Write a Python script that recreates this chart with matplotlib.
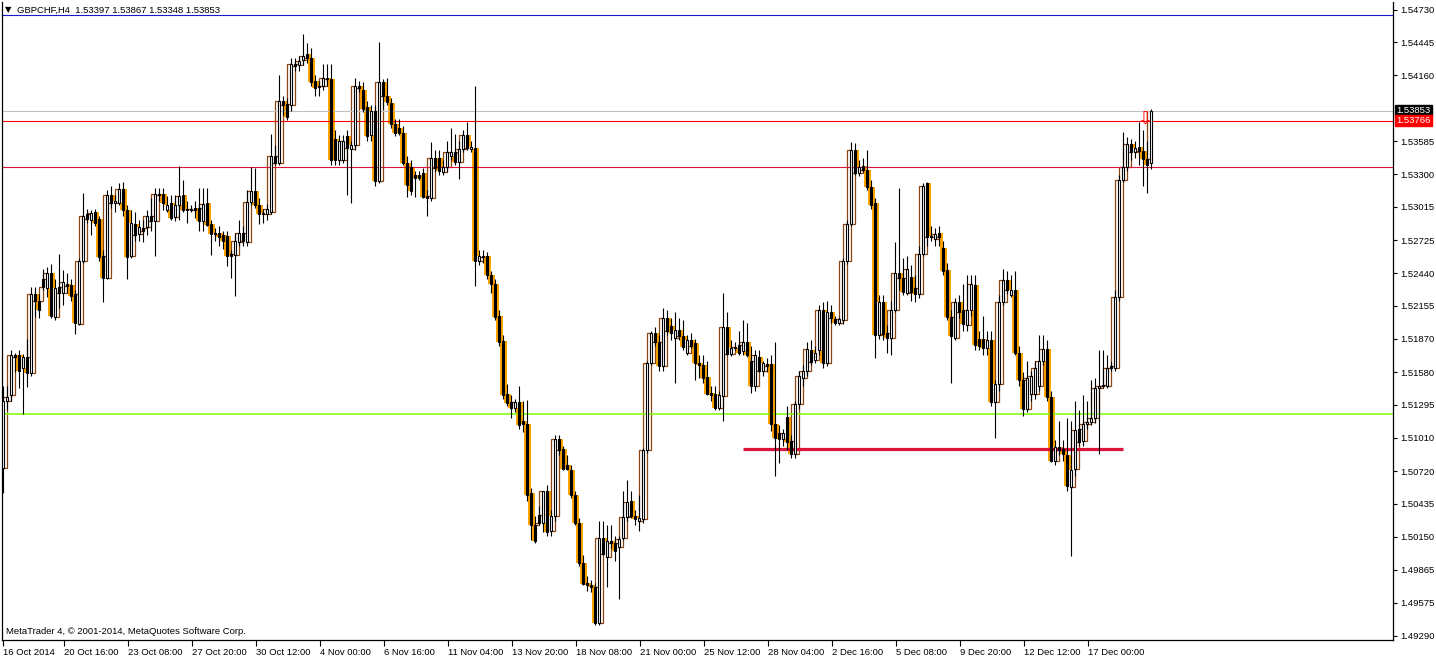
import numpy as np
import matplotlib
matplotlib.use("Agg")
import matplotlib.pyplot as plt

plt.rcParams['font.family'] = ['Liberation Sans', 'DejaVu Sans']
plt.rcParams['font.size'] = 6.8

# GBPCHF H4 candles, 16 Oct 2014 .. 19 Dec 2014
opens = [
    1.5075, 1.5133, 1.5138, 1.5173, 1.5173, 1.5162, 1.5171, 1.5157, 1.5226, 1.5220,
    1.5239, 1.5231, 1.5244, 1.5206, 1.5232, 1.5227, 1.5235, 1.5234, 1.5226, 1.5200,
    1.5255, 1.5295, 1.5290, 1.5297, 1.5291, 1.5259, 1.5240, 1.5312, 1.5305, 1.5305,
    1.5317, 1.5299, 1.5259, 1.5287, 1.5278, 1.5283, 1.5284, 1.5294, 1.5289, 1.5313,
    1.5313, 1.5299, 1.5305, 1.5293, 1.5303, 1.5312, 1.5300, 1.5299, 1.5301, 1.5301,
    1.5289, 1.5305, 1.5287, 1.5278, 1.5279, 1.5277, 1.5276, 1.5261, 1.5260, 1.5271,
    1.5279, 1.5271, 1.5306, 1.5315, 1.5303, 1.5295, 1.5295, 1.5297, 1.5346, 1.5340,
    1.5394, 1.5391, 1.5390, 1.5426, 1.5425, 1.5429, 1.5434, 1.5431, 1.5411, 1.5407,
    1.5407, 1.5414, 1.5413, 1.5361, 1.5342, 1.5342, 1.5363, 1.5352, 1.5355, 1.5407,
    1.5403, 1.5388, 1.5364, 1.5385, 1.5324, 1.5410, 1.5398, 1.5392, 1.5374, 1.5370,
    1.5366, 1.5340, 1.5336, 1.5329, 1.5329, 1.5331, 1.5311, 1.5309, 1.5344, 1.5344,
    1.5332, 1.5336, 1.5346, 1.5349, 1.5341, 1.5352, 1.5364, 1.5352, 1.5353, 1.5255,
    1.5259, 1.5259, 1.5242, 1.5235, 1.5207, 1.5185, 1.5139, 1.5132, 1.5127, 1.5132,
    1.5116, 1.5113, 1.5053, 1.5025, 1.5034, 1.5027, 1.5055, 1.5020, 1.5033, 1.5100,
    1.5091, 1.5077, 1.5073, 1.5051, 1.5027, 1.4992, 1.4975, 1.4973, 1.4971, 1.4940,
    1.5014, 1.4997, 1.5011, 1.5010, 1.5006, 1.5014, 1.5032, 1.5046, 1.5033, 1.5029,
    1.5030, 1.5090, 1.5166, 1.5192, 1.5184, 1.5163, 1.5205, 1.5198, 1.5188, 1.5195,
    1.5189, 1.5175, 1.5186, 1.5183, 1.5166, 1.5164, 1.5154, 1.5140, 1.5139, 1.5127,
    1.5137, 1.5197, 1.5174, 1.5179, 1.5182, 1.5176, 1.5184, 1.5168, 1.5146, 1.5171,
    1.5159, 1.5165, 1.5165, 1.5113, 1.5105, 1.5100, 1.5119, 1.5098, 1.5087, 1.5130,
    1.5153, 1.5159, 1.5177, 1.5169, 1.5177, 1.5212, 1.5166, 1.5210, 1.5204, 1.5201,
    1.5203, 1.5255, 1.5287, 1.5351, 1.5331, 1.5337, 1.5334, 1.5319, 1.5305, 1.5190,
    1.5219, 1.5192, 1.5188, 1.5212, 1.5244, 1.5240, 1.5227, 1.5241, 1.5231, 1.5226,
    1.5261, 1.5322, 1.5275, 1.5274, 1.5279, 1.5266, 1.5247, 1.5206, 1.5188, 1.5219,
    1.5212, 1.5199, 1.5212, 1.5234, 1.5187, 1.5187, 1.5179, 1.5186, 1.5132, 1.5148,
    1.5219, 1.5238, 1.5225, 1.5229, 1.5175, 1.5151, 1.5126, 1.5139, 1.5139, 1.5146,
    1.5168, 1.5178, 1.5136, 1.5081, 1.5093, 1.5091, 1.5086, 1.5058, 1.5074, 1.5109,
    1.5098, 1.5113, 1.5115, 1.5118, 1.5144, 1.5147, 1.5146, 1.5163, 1.5162, 1.5223,
    1.5325, 1.5336, 1.5356, 1.5349, 1.5354, 1.5350, 1.5343, 1.53397,
]
highs = [
    1.5146, 1.5146, 1.5177, 1.5175, 1.5177, 1.5174, 1.5187, 1.5232, 1.5232, 1.5226,
    1.5248, 1.5249, 1.5252, 1.5239, 1.5261, 1.5247, 1.5244, 1.5239, 1.5229, 1.5257,
    1.5314, 1.5300, 1.5299, 1.5300, 1.5294, 1.5264, 1.5316, 1.5320, 1.5312, 1.5322,
    1.5323, 1.5303, 1.5299, 1.5297, 1.5290, 1.5290, 1.5299, 1.5309, 1.5318, 1.5318,
    1.5318, 1.5311, 1.5312, 1.5312, 1.5337, 1.5325, 1.5307, 1.5303, 1.5307, 1.5318,
    1.5318, 1.5318, 1.5290, 1.5283, 1.5285, 1.5281, 1.5281, 1.5264, 1.5279, 1.5290,
    1.5285, 1.5316, 1.5336, 1.5335, 1.5309, 1.5300, 1.5304, 1.5365, 1.5355, 1.5416,
    1.5398, 1.5396, 1.5431, 1.5431, 1.5433, 1.5452, 1.5444, 1.5440, 1.5416, 1.5411,
    1.5426, 1.5426, 1.5426, 1.5368, 1.5364, 1.5364, 1.5368, 1.5359, 1.5414, 1.5411,
    1.5410, 1.5394, 1.5390, 1.5390, 1.5445, 1.5413, 1.5414, 1.5396, 1.5378, 1.5378,
    1.5372, 1.5346, 1.5342, 1.5333, 1.5333, 1.5335, 1.5316, 1.5358, 1.5351, 1.5351,
    1.5342, 1.5359, 1.5370, 1.5365, 1.5359, 1.5368, 1.5375, 1.5359, 1.5407, 1.5264,
    1.5264, 1.5262, 1.5246, 1.5239, 1.5212, 1.5190, 1.5148, 1.5138, 1.5135, 1.5146,
    1.5133, 1.5134, 1.5057, 1.5033, 1.5042, 1.5055, 1.5060, 1.5038, 1.5103, 1.5103,
    1.5094, 1.5086, 1.5077, 1.5055, 1.5031, 1.4999, 1.4981, 1.4977, 1.4975, 1.5029,
    1.5029, 1.5025, 1.5025, 1.5016, 1.5016, 1.5055, 1.5064, 1.5055, 1.5038, 1.5051,
    1.5092, 1.5168, 1.5194, 1.5197, 1.5190, 1.5214, 1.5212, 1.5205, 1.5210, 1.5205,
    1.5203, 1.5190, 1.5192, 1.5187, 1.5173, 1.5173, 1.5168, 1.5146, 1.5146, 1.5142,
    1.5227, 1.5210, 1.5186, 1.5184, 1.5194, 1.5203, 1.5201, 1.5181, 1.5177, 1.5177,
    1.5168, 1.5170, 1.5173, 1.5184, 1.5112, 1.5109, 1.5129, 1.5103, 1.5133, 1.5159,
    1.5164, 1.5184, 1.5186, 1.5181, 1.5216, 1.5219, 1.5220, 1.5216, 1.5207, 1.5206,
    1.5257, 1.5290, 1.5358, 1.5357, 1.5342, 1.5344, 1.5351, 1.5325, 1.5309, 1.5225,
    1.5225, 1.5199, 1.5220, 1.5271, 1.5318, 1.5257, 1.5259, 1.5251, 1.5242, 1.5268,
    1.5322, 1.5323, 1.5285, 1.5283, 1.5285, 1.5272, 1.5253, 1.5212, 1.5222, 1.5225,
    1.5235, 1.5242, 1.5242, 1.5242, 1.5194, 1.5207, 1.5194, 1.5194, 1.5151, 1.5225,
    1.5248, 1.5246, 1.5242, 1.5246, 1.5181, 1.5158, 1.5168, 1.5159, 1.5168, 1.5190,
    1.5190, 1.5186, 1.5142, 1.5099, 1.5116, 1.5099, 1.5118, 1.5116, 1.5133, 1.5125,
    1.5138, 1.5133, 1.5151, 1.5153, 1.5177, 1.5177, 1.5173, 1.5168, 1.5229, 1.5329,
    1.5367, 1.5362, 1.5361, 1.5359, 1.5375, 1.5368, 1.5359, 1.53867,
]
lows = [
    1.5053, 1.5125, 1.5133, 1.5158, 1.5144, 1.5122, 1.5145, 1.5155, 1.5206, 1.5205,
    1.5229, 1.5223, 1.5205, 1.5203, 1.5214, 1.5216, 1.5227, 1.5220, 1.5191, 1.5199,
    1.5253, 1.5288, 1.5277, 1.5285, 1.5255, 1.5219, 1.5239, 1.5301, 1.5297, 1.5303,
    1.5294, 1.5239, 1.5257, 1.5272, 1.5272, 1.5271, 1.5277, 1.5281, 1.5259, 1.5307,
    1.5299, 1.5297, 1.5290, 1.5289, 1.5290, 1.5297, 1.5288, 1.5297, 1.5292, 1.5281,
    1.5281, 1.5285, 1.5260, 1.5272, 1.5268, 1.5265, 1.5250, 1.5240, 1.5224, 1.5268,
    1.5268, 1.5268, 1.5303, 1.5301, 1.5287, 1.5288, 1.5290, 1.5295, 1.5338, 1.5338,
    1.5381, 1.5377, 1.5385, 1.5420, 1.5420, 1.5425, 1.5427, 1.5407, 1.5398, 1.5398,
    1.5403, 1.5407, 1.5338, 1.5338, 1.5338, 1.5340, 1.5312, 1.5305, 1.5351, 1.5401,
    1.5384, 1.5359, 1.5359, 1.5320, 1.5322, 1.5387, 1.5390, 1.5370, 1.5363, 1.5364,
    1.5338, 1.5310, 1.5312, 1.5310, 1.5325, 1.5309, 1.5294, 1.5307, 1.5332, 1.5329,
    1.5329, 1.5332, 1.5342, 1.5338, 1.5326, 1.5349, 1.5351, 1.5349, 1.5233, 1.5251,
    1.5253, 1.5239, 1.5227, 1.5203, 1.5181, 1.5135, 1.5129, 1.5118, 1.5123, 1.5109,
    1.5106, 1.5046, 1.5012, 1.5010, 1.5025, 1.5019, 1.5016, 1.5016, 1.5029, 1.5086,
    1.5073, 1.5073, 1.5049, 1.5025, 1.4990, 1.4973, 1.4968, 1.4967, 1.4938, 1.4938,
    1.4999, 1.4971, 1.5005, 1.4994, 1.4961, 1.5012, 1.5029, 1.5031, 1.5025, 1.5020,
    1.5027, 1.5088, 1.5164, 1.5181, 1.5159, 1.5159, 1.5190, 1.5186, 1.5149, 1.5186,
    1.5177, 1.5173, 1.5179, 1.5151, 1.5153, 1.5149, 1.5138, 1.5133, 1.5125, 1.5125,
    1.5116, 1.5173, 1.5172, 1.5177, 1.5173, 1.5173, 1.5171, 1.5140, 1.5142, 1.5158,
    1.5155, 1.5158, 1.5107, 1.5068, 1.5079, 1.5094, 1.5090, 1.5083, 1.5083, 1.5126,
    1.5146, 1.5155, 1.5164, 1.5166, 1.5173, 1.5162, 1.5163, 1.5201, 1.5199, 1.5199,
    1.5200, 1.5252, 1.5285, 1.5329, 1.5328, 1.5332, 1.5316, 1.5300, 1.5170, 1.5187,
    1.5186, 1.5175, 1.5173, 1.5210, 1.5229, 1.5225, 1.5225, 1.5220, 1.5219, 1.5222,
    1.5259, 1.5268, 1.5272, 1.5268, 1.5268, 1.5242, 1.5203, 1.5149, 1.5186, 1.5205,
    1.5194, 1.5194, 1.5207, 1.5177, 1.5177, 1.5173, 1.5173, 1.5129, 1.5101, 1.5142,
    1.5216, 1.5226, 1.5223, 1.5173, 1.5146, 1.5120, 1.5123, 1.5133, 1.5135, 1.5142,
    1.5164, 1.5133, 1.5080, 1.5077, 1.5086, 1.5081, 1.5055, 1.4998, 1.5068, 1.5094,
    1.5094, 1.5109, 1.5112, 1.5114, 1.5087, 1.5144, 1.5144, 1.5159, 1.5159, 1.5220,
    1.5323, 1.5333, 1.5342, 1.5344, 1.5338, 1.5320, 1.5314, 1.53348,
]
closes = [
    1.5133, 1.5136, 1.5173, 1.5171, 1.5159, 1.5171, 1.5157, 1.5226, 1.5220, 1.5212,
    1.5232, 1.5244, 1.5207, 1.5231, 1.5227, 1.5236, 1.5233, 1.5224, 1.5201, 1.5255,
    1.5294, 1.5291, 1.5296, 1.5288, 1.5258, 1.5240, 1.5312, 1.5305, 1.5307, 1.5317,
    1.5299, 1.5258, 1.5288, 1.5277, 1.5284, 1.5281, 1.5294, 1.5289, 1.5313, 1.5312,
    1.5305, 1.5303, 1.5292, 1.5303, 1.5311, 1.5299, 1.5299, 1.5300, 1.5299, 1.5289,
    1.5304, 1.5286, 1.5278, 1.5279, 1.5275, 1.5272, 1.5259, 1.5259, 1.5272, 1.5279,
    1.5272, 1.5306, 1.5315, 1.5303, 1.5295, 1.5296, 1.5300, 1.5346, 1.5340, 1.5394,
    1.5390, 1.5380, 1.5426, 1.5424, 1.5428, 1.5433, 1.5431, 1.5410, 1.5405, 1.5406,
    1.5414, 1.5413, 1.5342, 1.5342, 1.5359, 1.5359, 1.5353, 1.5355, 1.5407, 1.5405,
    1.5387, 1.5363, 1.5385, 1.5324, 1.5410, 1.5398, 1.5393, 1.5374, 1.5366, 1.5366,
    1.5340, 1.5321, 1.5315, 1.5327, 1.5327, 1.5310, 1.5309, 1.5344, 1.5335, 1.5333,
    1.5336, 1.5349, 1.5349, 1.5341, 1.5352, 1.5364, 1.5353, 1.5354, 1.5255, 1.5259,
    1.5258, 1.5242, 1.5235, 1.5206, 1.5184, 1.5138, 1.5131, 1.5127, 1.5132, 1.5112,
    1.5113, 1.5051, 1.5025, 1.5011, 1.5027, 1.5055, 1.5019, 1.5033, 1.5100, 1.5090,
    1.5074, 1.5074, 1.5051, 1.5027, 1.4992, 1.4974, 1.4973, 1.4971, 1.4940, 1.5014,
    1.5000, 1.5011, 1.5010, 1.5003, 1.5013, 1.5032, 1.5045, 1.5033, 1.5030, 1.5031,
    1.5090, 1.5166, 1.5192, 1.5184, 1.5163, 1.5205, 1.5194, 1.5192, 1.5195, 1.5189,
    1.5180, 1.5186, 1.5181, 1.5166, 1.5164, 1.5153, 1.5139, 1.5138, 1.5127, 1.5138,
    1.5197, 1.5174, 1.5179, 1.5180, 1.5175, 1.5184, 1.5173, 1.5146, 1.5173, 1.5159,
    1.5166, 1.5163, 1.5113, 1.5101, 1.5100, 1.5105, 1.5097, 1.5087, 1.5130, 1.5155,
    1.5159, 1.5178, 1.5167, 1.5175, 1.5212, 1.5166, 1.5210, 1.5205, 1.5201, 1.5204,
    1.5255, 1.5287, 1.5351, 1.5331, 1.5336, 1.5334, 1.5319, 1.5303, 1.5190, 1.5219,
    1.5191, 1.5188, 1.5212, 1.5244, 1.5240, 1.5228, 1.5248, 1.5228, 1.5226, 1.5261,
    1.5320, 1.5275, 1.5276, 1.5278, 1.5275, 1.5246, 1.5206, 1.5189, 1.5219, 1.5210,
    1.5200, 1.5212, 1.5235, 1.5182, 1.5181, 1.5179, 1.5186, 1.5132, 1.5148, 1.5219,
    1.5238, 1.5229, 1.5229, 1.5175, 1.5151, 1.5126, 1.5153, 1.5155, 1.5162, 1.5168,
    1.5178, 1.5136, 1.5081, 1.5093, 1.5090, 1.5087, 1.5059, 1.5073, 1.5108, 1.5097,
    1.5113, 1.5115, 1.5118, 1.5144, 1.5146, 1.5146, 1.5162, 1.5162, 1.5223, 1.5325,
    1.5336, 1.5356, 1.5349, 1.5353, 1.5350, 1.5343, 1.5338, 1.53853,
]

date_labels = ["16 Oct 2014", "20 Oct 16:00", "23 Oct 08:00", "27 Oct 20:00",
               "30 Oct 12:00", "4 Nov 00:00", "6 Nov 16:00", "11 Nov 04:00",
               "13 Nov 20:00", "18 Nov 08:00", "21 Nov 00:00", "25 Nov 12:00",
               "28 Nov 04:00", "2 Dec 16:00", "5 Dec 08:00", "9 Dec 20:00",
               "12 Dec 12:00", "17 Dec 00:00"]
price_ticks = ["1.54730", "1.54445", "1.54160", "1.53585", "1.53300", "1.53015",
               "1.52725", "1.52440", "1.52155", "1.51870", "1.51580", "1.51295",
               "1.51010", "1.50720", "1.50435", "1.50150", "1.49865", "1.49575",
               "1.49290"]

# horizontal levels
level_blue = 1.5468
bid = 1.53853
level_red = 1.53766
level_crimson = 1.5336
level_green = 1.5122
support = 1.5091
support_from, support_to = 185, 280

o = np.array(opens)
h = np.array(highs)
l = np.array(lows)
c = np.array(closes)
n = len(o)
assert len(h) == n and len(l) == n and len(c) == n, (len(o), len(h), len(l), len(c))
x = np.arange(n)

fig = plt.figure(figsize=(14.36, 6.58), dpi=100)
ax = fig.add_axes([2 / 1436, 18 / 658, 1391 / 1436, 638 / 658])
ax.set_xlim(-0.33, 347.4)
ax.set_ylim(1.49253, 1.54796)

# overlay bars (second feed, shifted half a bar)
ov_o, ov_c = o[:-1], c[1:]
xo = x[:-1] + 0.5
down = ov_c < ov_o
ax.bar(xo[down], (ov_o - ov_c)[down], bottom=ov_c[down], width=0.8,
       color='#FFA500', linewidth=0, zorder=1)
ax.bar(xo[~down], (ov_c - ov_o)[~down], bottom=ov_o[~down], width=1.0,
       facecolor='none', edgecolor='#8B4513', linewidth=0.9, zorder=1)

# levels
ax.axhline(level_blue, color='#1a1acd', lw=0.8, zorder=2)
ax.axhline(bid, color='#C0C0C0', lw=0.8, zorder=2)
ax.axhline(level_red, color='#FF0000', lw=0.8, zorder=2)
ax.axhline(level_crimson, color='#DC143C', lw=0.8, zorder=2)
ax.axhline(level_green, color='#7CFC00', lw=1.1, zorder=2)
ax.hlines(support, support_from, support_to, color='#DC143C', lw=2.3, zorder=2)

# candles
lo = np.minimum(l, np.minimum(o, c))
hi = np.maximum(h, np.maximum(o, c))
ax.vlines(x, lo, hi, color='black', lw=0.8, zorder=3)
bull = c >= o
ax.bar(x, np.abs(c - o), bottom=np.minimum(o, c), width=0.55,
       facecolor=np.where(bull, 'white', 'black'), edgecolor='black',
       linewidth=0.8, zorder=4)

# sell-arrow mark near the last bars
ax.text(285.6, 1.5378, '\u21e9', color='red', fontsize=13, ha='center',
        va='center', family=['DejaVu Sans'], zorder=5)

# axes look
ax.spines['top'].set_visible(False)
for s in ['left', 'right', 'bottom']:
    ax.spines[s].set_linewidth(0.9)
ax.yaxis.tick_right()
ax.set_yticks([float(t) for t in price_ticks], labels=price_ticks)
ax.tick_params(axis='y', direction='out', length=3, width=0.8, pad=2)
tick_pos = [0] + [16 * i - 0.8 for i in range(1, len(date_labels))]
ax.set_xticks(tick_pos, labels=date_labels)
ax.tick_params(axis='x', direction='out', length=4, width=0.8, pad=2)
for lbl in ax.get_xticklabels():
    lbl.set_horizontalalignment('left')

ax.text(1.0025, bid, f'{bid:.5f}', transform=ax.get_yaxis_transform(),
        color='white', va='center', ha='left',
        bbox=dict(boxstyle='square,pad=0.12', fc='black', ec='black'))
ax.text(1.0025, level_red, f'{level_red:.5f}', transform=ax.get_yaxis_transform(),
        color='white', va='center', ha='left',
        bbox=dict(boxstyle='square,pad=0.12', fc='#FF0000', ec='#FF0000'))

fig.text(5 / 1436, 1 - 10 / 658, '\u25bc', fontsize=6, va='center',
         family=['DejaVu Sans'])
fig.text(17 / 1436, 1 - 10 / 658,
         'GBPCHF,H4  1.53397 1.53867 1.53348 1.53853', va='center')
fig.text(6 / 1436, 1 - 632 / 658,
         'MetaTrader 4, \u00a9 2001-2014, MetaQuotes Software Corp.', va='center')

fig.savefig('out.png', dpi=100)
